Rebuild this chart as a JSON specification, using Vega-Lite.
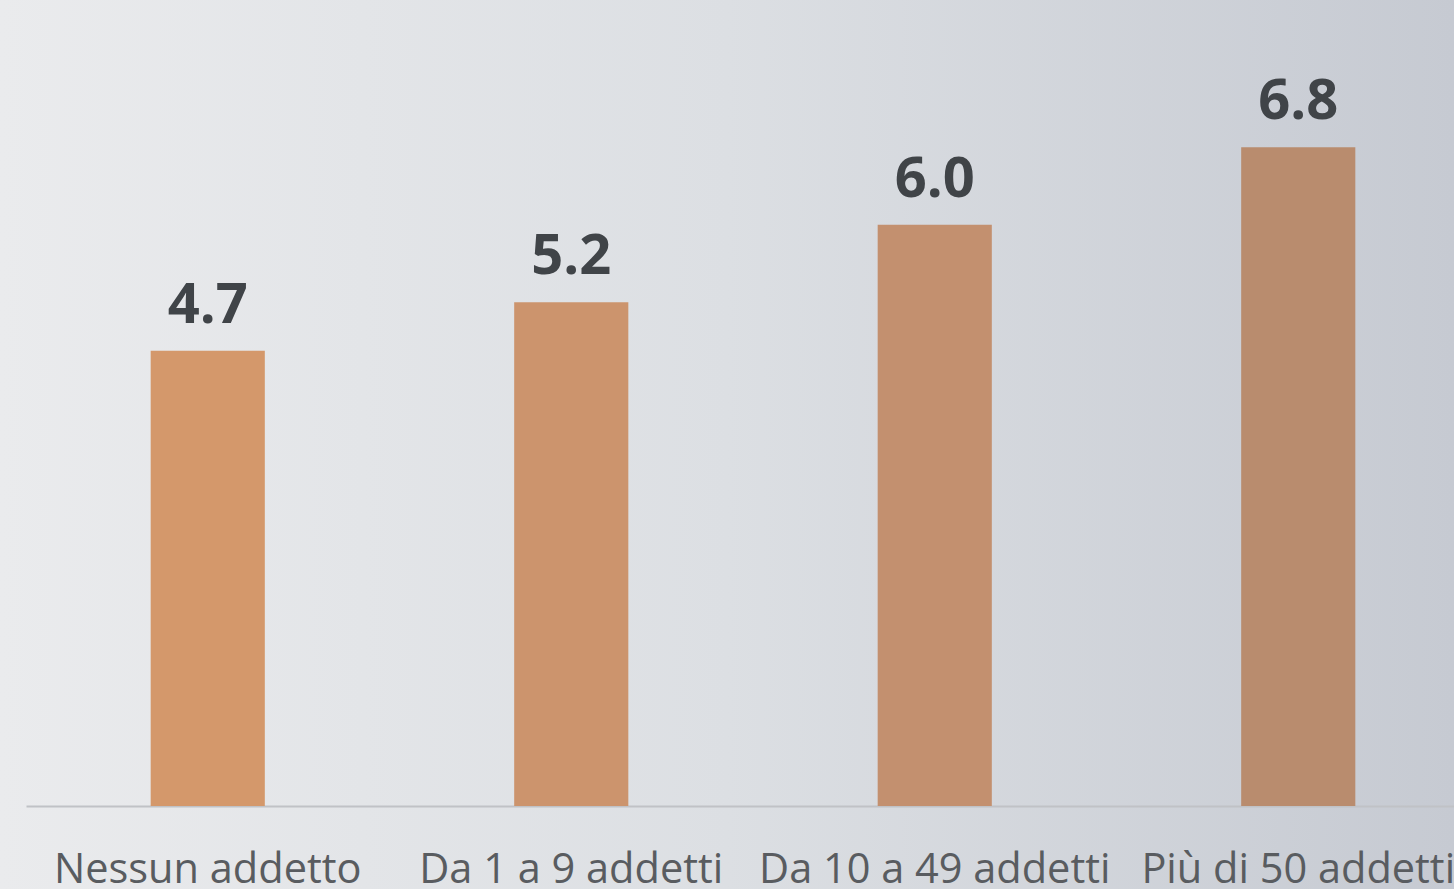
{
  "$schema": "https://vega.github.io/schema/vega-lite/v6.json",
  "width": 1454,
  "height": 889,
  "padding": 0,
  "autosize": {"type": "none"},
  "background": "#dfe2e6",
  "config": {
    "view": {
      "stroke": null,
      "fill": {"gradient": "linear", "x1": 0, "y1": 0, "x2": 1, "y2": 0, "stops": [{"offset": 0, "color": "#eaebed"}, {"offset": 0.5, "color": "#dcdfe3"}, {"offset": 1, "color": "#c6cad2"}]}
    }
  },
  "data": {
    "values": [
      {"categoria": "Nessun addetto", "valore": 4.7},
      {"categoria": "Da 1 a 9 addetti", "valore": 5.2},
      {"categoria": "Da 10 a 49 addetti", "valore": 6.0},
      {"categoria": "Più di 50 addetti", "valore": 6.8}
    ]
  },
  "encoding": {
    "x": {
      "field": "categoria",
      "type": "nominal",
      "sort": null,
      "scale": {"range": [26, 1480], "paddingInner": 0.686, "paddingOuter": 0.343},
      "axis": {
        "title": null,
        "offset": -83,
        "labelAngle": 0,
        "labelFont": "Open Sans",
        "labelFontSize": 41.5,
        "labelColor": "#595c60",
        "labelBaseline": "alphabetic",
        "labelPadding": 76,
        "ticks": false,
        "tickSize": 0,
        "domainColor": "#c0c2c6",
        "domainWidth": 2,
        "labelOverlap": false,
        "labelLimit": 0,
        "labelBound": false,
        "labelFlush": false,
        "grid": false
      }
    },
    "y": {
      "field": "valore",
      "type": "quantitative",
      "scale": {"domain": [0, 8.32], "range": [806, 0], "nice": false, "zero": true},
      "axis": null
    }
  },
  "layer": [
    {
      "mark": {"type": "bar"},
      "encoding": {
        "color": {
          "field": "categoria",
          "type": "nominal",
          "sort": null,
          "scale": {"range": ["#d4986b", "#cc946d", "#c3906f", "#b98c6e"]},
          "legend": null
        }
      }
    },
    {
      "mark": {"type": "text", "font": "Open Sans", "fontWeight": "bold", "fontSize": 56, "color": "#404448", "baseline": "alphabetic", "dy": -28},
      "encoding": {
        "text": {"field": "valore", "type": "quantitative", "format": ".1f"}
      }
    }
  ]
}
